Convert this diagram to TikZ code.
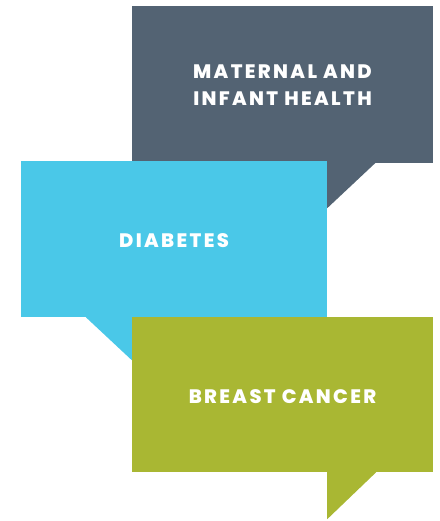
\documentclass[tikz,border=0pt]{standalone}
\usepackage{fontspec}
\setmainfont{Poppins}[BoldFont={Poppins ExtraBold}, LetterSpace=12]
\usetikzlibrary{positioning,calc}
\definecolor{slate}{RGB}{83,99,115}
\definecolor{sky}{RGB}{74,200,232}
\definecolor{olive}{RGB}{169,183,51}

\begin{document}
\begin{tikzpicture}[x=1pt, y=-1pt,
    bubble/.style={rectangle, inner sep=0pt, text=white, align=center,
        font=\bfseries\fontsize{19.5}{27}\selectfont}]
    \useasboundingbox (0,0) rectangle (439,521);

    % top bubble
    \node[bubble, fill=slate, minimum width=301pt, minimum height=156pt] (maternal) at (282.5,85)
        {MATERNAL AND\\INFANT HEALTH};
    \fill[slate] ($(maternal.south east)+(-57,-1)$) -- ($(maternal.south east)+(-106,-1)$)
        -- ($(maternal.south east)+(-106,45)$) -- cycle;
    \fill[slate] (132,6) rectangle (433,12);

    % middle bubble
    \node[bubble, fill=sky, minimum width=306pt, minimum height=156pt, text height=17.5pt] (diabetes) at (174,239)
        {DIABETES};
    \fill[sky] ($(diabetes.south west)+(65,0)$) -- ($(diabetes.south west)+(111,0)$)
        -- ($(diabetes.south west)+(111,43)$) -- cycle;

    % bottom bubble
    \node[bubble, fill=olive, minimum width=301pt, minimum height=155pt, text height=17.5pt] (cancer) at (282.5,394.5)
        {BREAST CANCER};
    \fill[olive] ($(cancer.south east)+(-57,0)$) -- ($(cancer.south east)+(-106,0)$)
        -- ($(cancer.south east)+(-106,47)$) -- cycle;
\end{tikzpicture}
\end{document}
